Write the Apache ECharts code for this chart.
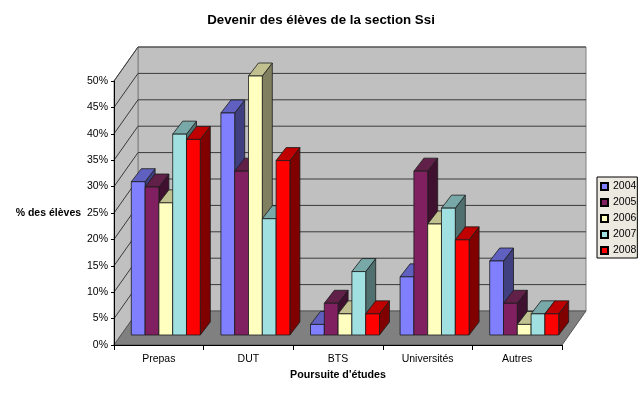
<!DOCTYPE html>
<html>
<head>
<meta charset="utf-8">
<style>
html, body { margin: 0; padding: 0; background: #fff; }
#chart { width: 640px; height: 396px; }
</style>
<script src="https://cdn.jsdelivr.net/npm/echarts@6/dist/echarts.min.js"></script>
</head>
<body>
<div id="chart"></div>
<script>
var categories = ['Prepas', 'DUT', 'BTS', 'Universités', 'Autres'];
var years = ['2004', '2005', '2006', '2007', '2008'];
var values2004 = [30, 43, 3, 12, 15];
var values2005 = [29, 32, 7, 32, 7];
var values2006 = [26, 50, 5, 22, 3];
var values2007 = [39, 23, 13, 25, 5];
var values2008 = [38, 34, 5, 19, 5];
var yTicks = [0, 5, 10, 15, 20, 25, 30, 35, 40, 45, 50];

var seriesValues = [values2004, values2005, values2006, values2007, values2008];
var faceColors = ['#8080ff', '#802060', '#ffffc0', '#a0e0e0', '#ff0000'];
var topColors = ['#6060c0', '#602048', '#c0c090', '#78a8a8', '#c00000'];
var sideColors = ['#404080', '#401030', '#808060', '#507070', '#800000'];

var FONT = '"Liberation Sans", Arial, sans-serif';
// profondeur du mur et des barres (projection oblique)
var wallDx = 24, wallDy = -34;
var barDx = 10, barDy = -13;
var edge = { stroke: '#1a1a1a', lineWidth: 0.8 };

function poly(points, fill, stroke) {
    return {
        type: 'polygon',
        shape: { points: points },
        style: { fill: fill, stroke: stroke || 'none', lineWidth: stroke ? 1 : 0 }
    };
}

function renderWalls(params, api) {
    var c = params.coordSys;
    var l = c.x, r = c.x + c.width, t = c.y, b = c.y + c.height;
    return {
        type: 'group',
        children: [
            poly([[l + wallDx, t + wallDy], [r + wallDx, t + wallDy], [r + wallDx, b + wallDy], [l + wallDx, b + wallDy]], '#c0c0c0', '#808080'),
            poly([[l, t], [l + wallDx, t + wallDy], [l + wallDx, b + wallDy], [l, b]], '#c0c0c0', '#808080'),
            poly([[l, b], [l + wallDx, b + wallDy], [r + wallDx, b + wallDy], [r, b]], '#808080', '#555555')
        ]
    };
}

function renderGridLine(params, api) {
    var c = params.coordSys;
    var y = api.coord([0, api.value(0)])[1];
    if (api.value(0) === 0) return null;
    var l = c.x, r = c.x + c.width;
    return {
        type: 'polyline',
        shape: { points: [[l, y], [l + wallDx, y + wallDy], [r + wallDx, y + wallDy]] },
        style: { fill: 'none', stroke: '#3a3a3a', lineWidth: 1 }
    };
}

function makeBarRenderer(i) {
    return function (params, api) {
        var band = api.size([1, 0])[0];
        var w = band * 0.154;
        var top = api.coord([api.value(0), api.value(1)]);
        // le pied de la barre s'arrête au bord du sol
        var base = params.coordSys.y + params.coordSys.height;
        var x0 = top[0] + (i - 2.5) * w;
        var x1 = x0 + w;
        var y = top[1];
        return {
            type: 'group',
            children: [
                { type: 'polygon', shape: { points: [[x1, y], [x1 + barDx, y + barDy], [x1 + barDx, base + barDy], [x1, base]] }, style: Object.assign({ fill: sideColors[i] }, edge) },
                { type: 'polygon', shape: { points: [[x0, y], [x0 + barDx, y + barDy], [x1 + barDx, y + barDy], [x1, y]] }, style: Object.assign({ fill: topColors[i] }, edge) },
                { type: 'rect', shape: { x: x0, y: y, width: w, height: base - y }, style: Object.assign({ fill: faceColors[i] }, edge) }
            ]
        };
    };
}

var series = [
    {
        type: 'custom', name: 'murs', xAxisIndex: 0, yAxisIndex: 0, z: 1, silent: true,
        clip: false, renderItem: renderWalls, data: [[0]]
    },
    {
        type: 'custom', name: 'grille', xAxisIndex: 0, yAxisIndex: 0, z: 2, silent: true,
        clip: false, renderItem: renderGridLine, encode: { y: 0 }, data: yTicks.map(function (v) { return [v]; })
    }
];
for (var i = 0; i < years.length; i++) {
    series.push({
        type: 'custom',
        name: years[i],
        xAxisIndex: 1,
        yAxisIndex: 1,
        z: 3 + i,
        clip: false,
        itemStyle: { color: faceColors[i], borderColor: '#000', borderWidth: 1 },
        renderItem: makeBarRenderer(i),
        encode: { x: 0, y: 1 },
        data: seriesValues[i].map(function (v, k) { return [k, v]; })
    });
}

var chart = echarts.init(document.getElementById('chart'), null, { renderer: 'canvas' });
chart.setOption({
    animation: false,
    backgroundColor: '#fff',
    title: {
        text: 'Devenir des élèves de la section Ssi',
        left: 316,
        top: 8,
        textAlign: 'center',
        textStyle: { fontFamily: FONT, fontSize: 13.3, fontWeight: 'bold', color: '#000', lineHeight: 14 }
    },
    legend: {
        data: years,
        orient: 'vertical',
        left: 597,
        top: 177,
        padding: [4, 1, 2, 3],
        itemWidth: 7,
        itemHeight: 7,
        itemGap: 5,
        icon: 'rect',
        backgroundColor: '#ece9e0',
        borderColor: '#000',
        borderWidth: 1,
        borderRadius: 0,
        selectedMode: false,
        textStyle: { fontFamily: FONT, fontSize: 10.5, color: '#000', lineHeight: 11 }
    },
    grid: [
        { left: 114, right: 78, top: 81, bottom: 51, outerBoundsMode: 'none' },
        // barres : le zéro tombe sous le bord du sol, l'échelle part donc de 1
        { left: 121, right: 71, top: 76, bottom: 61, outerBoundsMode: 'none' }
    ],
    xAxis: [
        {
            type: 'category',
            gridIndex: 0,
            data: categories,
            name: "Poursuite d'études",
            nameLocation: 'middle',
            nameGap: 25,
            nameTextStyle: { fontFamily: FONT, fontSize: 10.7, fontWeight: 'bold', color: '#000' },
            axisLine: { lineStyle: { color: '#000', width: 1 } },
            axisTick: { show: true, length: 5, alignWithLabel: false, lineStyle: { color: '#000' } },
            axisLabel: { fontFamily: FONT, fontSize: 10.5, color: '#000', margin: 9 },
            z: 20
        },
        {
            type: 'category',
            gridIndex: 1,
            data: categories,
            show: false
        }
    ],
    yAxis: [
        {
            type: 'value',
            gridIndex: 0,
            min: 0,
            max: 50,
            interval: 5,
            name: '% des élèves',
            nameLocation: 'middle',
            nameRotate: 0,
            nameGap: 32,
            nameTextStyle: { fontFamily: FONT, fontSize: 10.5, fontWeight: 'bold', color: '#000' },
            axisLine: { show: true, lineStyle: { color: '#000', width: 1 } },
            axisTick: { show: true, length: 3, lineStyle: { color: '#000' } },
            axisLabel: { fontFamily: FONT, fontSize: 10.5, color: '#000', margin: 6, formatter: '{value}%' },
            splitLine: { show: false },
            z: 20
        },
        {
            type: 'value',
            gridIndex: 1,
            min: 1,
            max: 50,
            show: false,
            splitLine: { show: false }
        }
    ],
    series: series
});
</script>
</body>
</html>
